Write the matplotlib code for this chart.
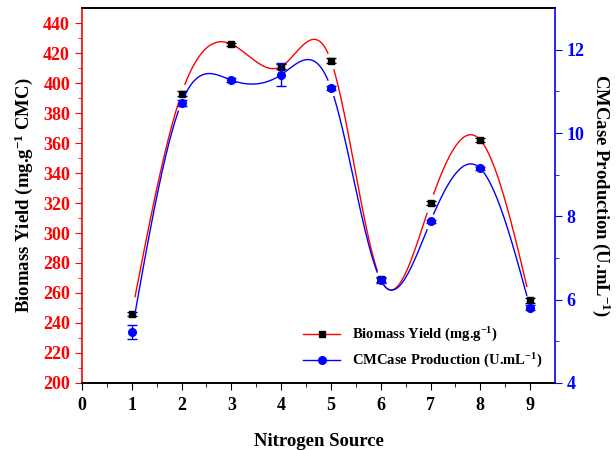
import matplotlib
matplotlib.use("Agg")
import matplotlib.pyplot as plt
import numpy as np

plt.rcParams['font.family'] = ['Liberation Serif', 'DejaVu Serif']
plt.rcParams['font.weight'] = 'bold'
plt.rcParams['mathtext.fontset'] = 'custom'
plt.rcParams['mathtext.rm'] = 'Liberation Serif:bold'
plt.rcParams['mathtext.bf'] = 'Liberation Serif:bold'
plt.rcParams['mathtext.it'] = 'Liberation Serif:bold'

source = [1, 2, 3, 4, 5, 6, 7, 8, 9]
biomass = [246, 393, 426, 411, 415, 269, 320, 362, 255]
biomass_err = [1.5, 1.5, 1.0, 1.5, 1.5, 1.5, 1.5, 1.5, 1.5]
cmcase = [5.22, 10.73, 11.27, 11.40, 11.09, 6.47, 7.88, 9.15, 5.80]
cmcase_err = [0.17, 0.07, 0.04, 0.27, 0.05, 0.06, 0.03, 0.04, 0.06]


def spline(x, y, n=600):
    # natural cubic spline
    x = np.asarray(x, float)
    y = np.asarray(y, float)
    k = len(x)
    h = np.diff(x)
    A = np.zeros((k, k))
    b = np.zeros(k)
    A[0, 0] = A[-1, -1] = 1
    for i in range(1, k - 1):
        A[i, i - 1] = h[i - 1]
        A[i, i] = 2 * (h[i - 1] + h[i])
        A[i, i + 1] = h[i]
        b[i] = 3 * ((y[i + 1] - y[i]) / h[i] - (y[i] - y[i - 1]) / h[i - 1])
    c = np.linalg.solve(A, b)
    xs = np.linspace(x[0], x[-1], n)
    idx = np.clip(np.searchsorted(x, xs) - 1, 0, k - 2)
    dx = xs - x[idx]
    bb = (y[idx + 1] - y[idx]) / h[idx] - h[idx] * (2 * c[idx] + c[idx + 1]) / 3
    d = (c[idx + 1] - c[idx]) / (3 * h[idx])
    ys = y[idx] + bb * dx + c[idx] * dx ** 2 + d * dx ** 3
    # gap around the symbols
    for xi in x:
        ys[np.abs(xs - xi) < 0.06] = np.nan
    return xs, ys


fig = plt.figure(figsize=(6.16, 4.5), dpi=100)
ax = fig.add_axes([0.133, 0.149, 0.768, 0.833])
ax2 = ax.twinx()

xs, ys = spline(source, biomass)
ax.plot(xs, ys, color='#ff0000', lw=1.0)
ax.errorbar(source, biomass, yerr=biomass_err, fmt='s', color='black', ms=5,
            capsize=3.5, elinewidth=1, capthick=1)
xs2, ys2 = spline(source, cmcase)
ax2.plot(xs2, ys2, color='#0000ff', lw=1.0)
ax2.errorbar(source, cmcase, yerr=cmcase_err, fmt='o', color='#0000ff', ms=5.5,
             capsize=3.5, elinewidth=1, capthick=1)

ax.set_xlim(0, 9.5)
ax.set_ylim(200, 450)
ax2.set_ylim(4, 13)
ax.set_xticks(range(0, 10))
ax.set_xticks(np.arange(0.5, 9.5, 1), minor=True)
ax.set_yticks(range(200, 441, 20))
ax.set_yticks(range(210, 450, 20), minor=True)
ax2.set_yticks([4, 6, 8, 10, 12])
ax2.set_yticks([5, 7, 9, 11], minor=True)

ax.tick_params(axis='x', which='both', direction='out', top=False, labelsize=13,
               colors='black', pad=5)
ax.tick_params(axis='x', which='major', length=5)
ax.tick_params(axis='x', which='minor', length=3)
ax.tick_params(axis='y', which='both', direction='out', colors='#ff0000', labelsize=13)
ax.tick_params(axis='y', which='major', length=5)
ax.tick_params(axis='y', which='minor', length=3)
ax2.tick_params(axis='y', which='both', direction='out', colors='#0000ff', labelsize=13)
ax2.tick_params(axis='y', which='major', length=5)
ax2.tick_params(axis='y', which='minor', length=3)

ax.spines['left'].set_color('#ff0000')
ax2.spines['left'].set_visible(False)
ax2.spines['right'].set_color('#0000ff')
ax.spines['right'].set_visible(False)
for s in ['left', 'right', 'top', 'bottom']:
    ax.spines[s].set_linewidth(1.2)
    ax2.spines[s].set_linewidth(1.2)

ax.set_xlabel('Nitrogen Source', fontsize=13.5, fontweight='bold', labelpad=14)
ax.set_ylabel('Biomass Yield (mg.g$^{-1}$ CMC)', fontsize=13.5, fontweight='bold',
              labelpad=6)
ax2.set_ylabel('CMCase Production (U.mL$^{-1}$)', fontsize=13.5, fontweight='bold',
               rotation=270, labelpad=20)

h1, = ax.plot([], [], color='#ff0000', marker='s', mfc='black', mec='black', ms=5, lw=1)
h2, = ax.plot([], [], color='#0000ff', marker='o', mfc='#0000ff', mec='#0000ff', ms=5.5, lw=1)
ax.legend([h1, h2], ['Biomass Yield (mg.g$^{-1}$)', 'CMCase Production (U.mL$^{-1}$)'],
          loc='lower right', frameon=False, fontsize=10.5, handlelength=2.5,
          bbox_to_anchor=(1.0, 0.0))

fig.savefig('out.png', dpi=100)
